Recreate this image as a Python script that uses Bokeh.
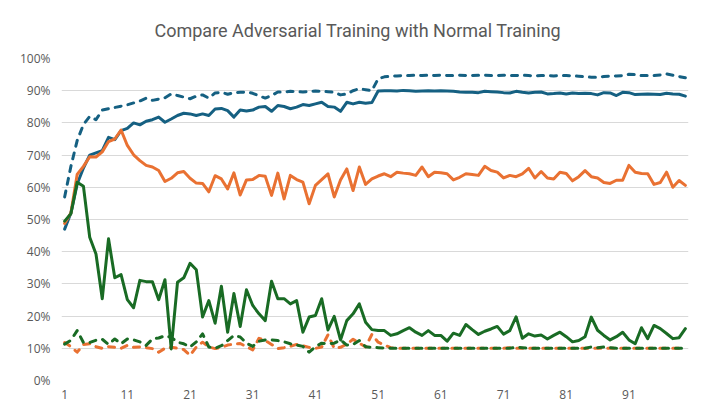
from bokeh.plotting import figure
from bokeh.models import Range1d, FixedTicker, NumeralTickFormatter
from bokeh.embed import file_html
from bokeh.resources import INLINE

# Epoch index on the category axis
epochs = list(range(1, 101))
x_tick_labels = ["1", "11", "21", "31", "41", "51", "61", "71", "81", "91"]
y_ticks = [0.0, 0.1, 0.2, 0.3, 0.4, 0.5, 0.6, 0.7, 0.8, 0.9, 1.0]

# Accuracy curves (%), one value per epoch
adv_clean = [
    47.0, 52.0, 61.0, 66.0, 70.0, 70.7, 71.4, 75.5, 74.8, 77.6,
    78.3, 80.0, 79.4, 80.5, 81.0, 81.8, 80.2, 81.2, 82.3, 83.0,
    82.8, 82.3, 82.8, 82.3, 84.3, 84.5, 83.8, 81.8, 84.0, 83.7,
    84.0, 84.9, 85.1, 83.6, 85.4, 85.1, 84.4, 84.9, 85.7, 85.4,
    85.9, 86.4, 85.1, 84.9, 83.6, 86.4, 85.9, 86.4, 86.1, 86.3,
    89.9, 90.0, 90.0, 89.9, 90.1, 90.0, 89.8, 89.9, 90.0, 89.9,
    90.0, 89.9, 89.8, 89.6, 89.5, 89.5, 89.4, 89.8, 89.7, 89.6,
    89.4, 89.3, 89.8, 89.5, 89.3, 89.5, 89.6, 89.0, 89.1, 89.3,
    89.0, 89.3, 89.1, 89.2, 89.1, 88.7, 89.4, 89.3, 88.5, 89.5,
    89.4, 88.8, 88.9, 89.0, 88.9, 88.8, 89.2, 89.0, 88.9, 88.3,
]
normal_clean = [
    57.0, 66.5, 74.5, 79.5, 82.0, 81.0, 84.0, 84.4, 84.8, 85.2,
    85.6, 86.2, 86.8, 87.7, 87.0, 87.4, 87.8, 89.0, 88.5, 88.0,
    87.5, 88.3, 88.7, 87.7, 89.3, 89.5, 88.9, 89.4, 89.5, 89.6,
    89.2, 88.4, 87.7, 88.5, 89.6, 89.6, 89.8, 89.7, 89.6, 89.8,
    89.9, 89.8, 89.7, 89.5, 88.7, 89.0, 90.0, 90.6, 90.3, 90.0,
    93.7, 94.3, 94.5, 94.6, 94.7, 94.7, 94.8, 94.7, 94.8, 94.7,
    94.8, 94.7, 94.7, 94.8, 94.7, 94.7, 94.8, 94.8, 94.7, 94.7,
    94.8, 94.7, 94.7, 94.8, 94.7, 94.6, 94.7, 94.7, 94.6, 94.7,
    94.7, 94.6, 94.5, 94.3, 94.2, 94.2, 94.4, 94.5, 94.6, 94.7,
    95.1, 95.0, 94.7, 94.7, 94.7, 94.9, 95.2, 94.8, 94.4, 94.0,
]
adv_robust = [
    48.8, 52.0, 64.0, 66.5, 69.5, 69.4, 71.0, 74.2, 75.0, 77.8,
    73.0, 70.1, 68.3, 66.8, 66.3, 65.2, 61.8, 62.8, 64.5, 64.9,
    62.8, 61.3, 61.2, 58.6, 63.6, 62.6, 59.5, 64.5, 57.6, 62.3,
    62.4, 63.7, 63.4, 57.5, 64.4, 56.4, 63.7, 62.4, 61.6, 54.9,
    60.6, 62.4, 64.2, 57.0, 62.3, 65.7, 59.0, 66.3, 60.9, 62.6,
    63.5, 64.2, 63.3, 64.7, 64.4, 64.2, 63.7, 66.3, 63.3, 64.7,
    64.5, 64.2, 62.3, 63.1, 64.2, 64.0, 63.7, 66.5, 65.2, 64.7,
    62.9, 63.7, 63.3, 64.2, 65.9, 62.9, 64.9, 62.9, 62.6, 64.7,
    64.3, 62.0, 63.3, 65.2, 63.3, 62.9, 61.5, 61.2, 62.2, 62.2,
    66.8, 64.7, 64.3, 64.2, 60.9, 61.5, 64.7, 60.0, 62.1, 60.6,
]
normal_robust = [
    11.8, 10.5, 8.8, 11.2, 11.4, 10.5, 10.0, 10.5, 10.3, 10.0,
    10.9, 10.3, 10.4, 10.2, 9.9, 8.8, 10.0, 10.3, 10.0, 9.6,
    7.8, 10.4, 11.9, 10.4, 9.9, 10.3, 11.0, 11.3, 11.5, 10.5,
    9.5, 13.1, 12.4, 11.2, 9.9, 10.2, 10.6, 11.2, 10.8, 10.3,
    10.0, 10.4, 14.2, 10.0, 10.3, 11.3, 12.8, 11.6, 10.4, 14.3,
    11.9, 11.0, 10.2, 10.0, 10.0, 10.0, 10.0, 10.0, 10.0, 10.0,
    10.0, 10.0, 10.0, 10.0, 10.0, 10.0, 10.0, 10.0, 10.0, 10.0,
    10.0, 10.2, 10.0, 10.0, 10.0, 10.0, 10.0, 10.0, 10.0, 10.0,
    10.0, 10.0, 10.0, 10.0, 10.0, 10.0, 10.0, 10.0, 10.0, 10.0,
    10.0, 10.0, 10.0, 10.0, 10.0, 10.0, 10.0, 10.0, 10.0, 10.0,
]
adv_attack = [
    49.5, 51.8, 61.6, 60.3, 44.5, 39.3, 25.4, 44.0, 31.9, 32.9,
    25.1, 22.6, 31.1, 30.7, 30.7, 25.1, 31.3, 9.8, 30.5, 31.9,
    36.4, 34.4, 19.7, 24.8, 17.8, 29.3, 15.0, 27.0, 16.8, 28.2,
    23.3, 20.7, 18.6, 30.8, 25.4, 25.4, 23.8, 24.8, 15.0, 19.7,
    20.2, 25.4, 15.7, 19.9, 12.6, 18.6, 20.7, 23.8, 18.1, 15.8,
    15.5, 15.5, 14.0, 14.5, 15.5, 16.4, 15.0, 14.0, 15.5, 14.0,
    14.0, 12.2, 14.7, 14.0, 17.4, 15.8, 14.3, 15.3, 16.0, 16.8,
    14.4, 15.5, 19.8, 13.1, 14.5, 13.8, 14.1, 12.9, 14.0, 15.0,
    13.6, 12.0, 12.4, 13.6, 19.7, 15.6, 14.0, 12.6, 13.6, 15.0,
    12.6, 11.4, 16.4, 13.0, 17.1, 16.1, 14.6, 13.0, 13.3, 16.1,
]
normal_attack = [
    11.3, 12.5, 15.5, 11.8, 11.8, 12.5, 12.8, 11.2, 12.9, 11.4,
    12.9, 12.6, 12.0, 10.9, 12.9, 13.2, 13.9, 13.4, 11.9, 11.4,
    10.4, 12.0, 14.5, 10.4, 10.0, 10.8, 12.4, 14.0, 13.5, 11.6,
    10.6, 12.2, 12.6, 12.6, 12.4, 12.0, 11.4, 11.0, 10.6, 8.8,
    10.5, 11.6, 11.4, 11.6, 12.6, 11.0, 11.2, 12.4, 10.5, 10.3,
    10.2, 10.1, 10.0, 10.0, 10.0, 10.0, 10.0, 10.0, 10.0, 10.0,
    10.0, 10.0, 10.0, 10.0, 10.0, 10.0, 10.0, 10.0, 10.0, 10.0,
    10.0, 10.0, 10.3, 10.2, 10.0, 10.0, 10.0, 10.0, 10.0, 10.0,
    10.0, 10.0, 10.0, 10.0, 10.4, 10.2, 10.4, 10.2, 10.0, 10.0,
    10.0, 10.0, 10.0, 10.0, 10.0, 10.0, 10.0, 10.0, 10.0, 10.0,
]

BLUE = "#156082"
ORANGE = "#E97132"
GREEN = "#196B24"
TEXT = "#595959"
GRID = "#D9D9D9"

p = figure(
    width=713, height=416,
    x_range=Range1d(0.5, 100.5), y_range=Range1d(0, 1),
    output_backend="svg", toolbar_location=None,
    min_border_left=61, min_border_right=25,
    min_border_top=58, min_border_bottom=36,
)
p.background_fill_color = "white"
p.border_fill_color = "white"
p.outline_line_color = None

# Title: left-aligned with an offset so it sits centred on the full chart width
p.title.text = "Compare Adversarial Training with Normal Training"
p.title.align = "left"
p.title.offset = 93
p.title.standoff = 35
p.title.text_font = "Roboto"
p.title.text_font_size = "18px"
p.title.text_font_style = "normal"
p.title.text_color = TEXT


def pct(vals):
    return [v / 100 for v in vals]


series = [
    (adv_clean, BLUE, "solid"),
    (normal_clean, BLUE, "6 7"),
    (adv_robust, ORANGE, "solid"),
    (normal_robust, ORANGE, "6 7"),
    (adv_attack, GREEN, "solid"),
    (normal_attack, GREEN, "6 7"),
]
for vals, color, dash in series:
    p.line(epochs, pct(vals), line_color=color, line_width=3,
           line_dash=dash, line_join="round", line_cap="round")

# Axes
p.xaxis.ticker = FixedTicker(ticks=[int(s) for s in x_tick_labels])
p.xaxis.major_label_overrides = {int(s): s for s in x_tick_labels}
p.yaxis.ticker = FixedTicker(ticks=y_ticks)
p.yaxis.formatter = NumeralTickFormatter(format="0%")
for ax in (p.xaxis, p.yaxis):
    ax.axis_line_color = None
    ax.major_tick_line_color = None
    ax.minor_tick_line_color = None
    ax.major_tick_in = 0
    ax.major_tick_out = 0
    ax.major_label_text_color = TEXT
    ax.major_label_text_font = "Open Sans"
    ax.major_label_text_font_size = "12px"
p.yaxis.major_label_standoff = 11
p.xaxis.major_label_standoff = 9

p.xgrid.grid_line_color = None
p.ygrid.ticker = FixedTicker(ticks=y_ticks)
p.ygrid.grid_line_color = GRID
p.ygrid.grid_line_width = 1

open("out.html", "w").write(file_html(p, INLINE))
